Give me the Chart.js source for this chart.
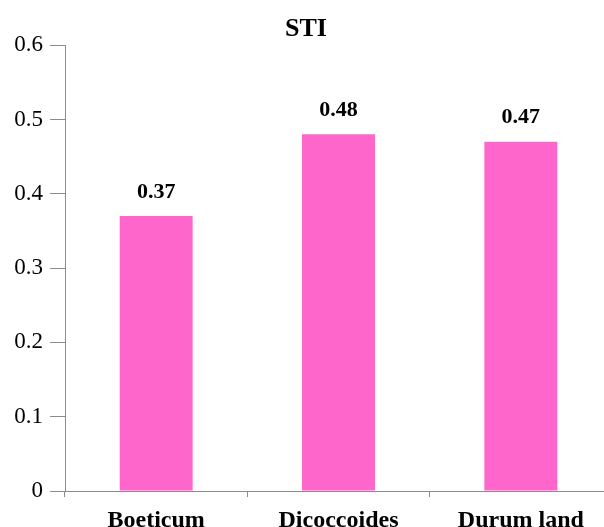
<!DOCTYPE html>
<html>
<head>
<meta charset="utf-8">
<script src="https://cdn.jsdelivr.net/npm/chart.js@4"></script>
<style>
  html, body { margin: 0; padding: 0; overflow: hidden; background: #fff; }
  #stiChart { display: block; }
</style>
</head>
<body>
<canvas id="stiChart" width="612" height="527" style="width:612px;height:527px"></canvas>
<script>
// STI per genotype group
const categories = ['Boeticum', 'Dicoccoides', 'Durum land'];
const stiValues = [0.37, 0.48, 0.47];
const yTickLabels = ['0', '0.1', '0.2', '0.3', '0.4', '0.5', '0.6'];

const serif = "'Liberation Serif', 'Times New Roman', serif";
const axisGray = '#8c8c8c';

// value labels above each bar
const barValueLabels = {
    id: 'barValueLabels',
    afterDatasetsDraw(chart) {
        const ctx = chart.ctx;
        const meta = chart.getDatasetMeta(0);
        ctx.save();
        ctx.font = 'bold 22px ' + serif;
        ctx.fillStyle = '#000';
        ctx.textAlign = 'center';
        ctx.textBaseline = 'middle';
        meta.data.forEach((bar, i) => {
            ctx.fillText(stiValues[i].toFixed(2), bar.x, bar.y - 24);
        });
        ctx.restore();
    }
};

new Chart(document.getElementById('stiChart').getContext('2d'), {
    type: 'bar',
    data: {
        labels: categories,
        datasets: [{
            label: 'STI',
            data: stiValues,
            backgroundColor: '#ff66cc',
            categoryPercentage: 1,
            barPercentage: 0.4
        }]
    },
    options: {
        responsive: false,
        animation: false,
        layout: { padding: 0 },
        plugins: {
            legend: { display: false },
            tooltip: { enabled: false },
            title: {
                display: true,
                text: 'STI',
                color: '#000',
                font: { family: serif, size: 26, weight: 'bold' },
                padding: { top: 14, bottom: 0 }
            }
        },
        scales: {
            x: {
                afterFit(scale) { scale.height = 36; },
                grid: { display: true, drawOnChartArea: false, tickLength: 6, color: axisGray, offset: true },
                border: { display: true, color: axisGray, width: 1 },
                ticks: {
                    color: '#000',
                    padding: 9,
                    maxRotation: 0,
                    font: { family: serif, size: 24, weight: 'bold' }
                }
            },
            y: {
                min: 0,
                max: 0.6,
                afterFit(scale) { scale.width = 65; },
                grid: { display: true, drawOnChartArea: false, tickLength: 15, color: axisGray },
                border: { display: true, color: axisGray, width: 1 },
                ticks: {
                    stepSize: 0.1,
                    padding: 7,
                    color: '#000',
                    font: { family: serif, size: 23 },
                    callback: (v, i) => yTickLabels[i]
                }
            }
        }
    },
    plugins: [barValueLabels]
});
</script>
</body>
</html>
